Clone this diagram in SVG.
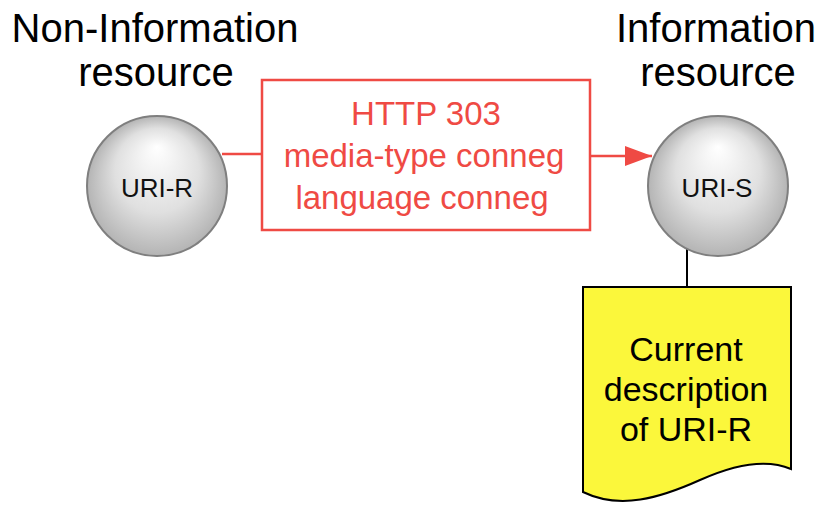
<svg xmlns="http://www.w3.org/2000/svg" width="824" height="507" viewBox="0 0 824 507">
<defs>
<radialGradient id="ball" cx="0.5" cy="0.5" r="0.5" fx="0.5" fy="0.22">
<stop offset="0" stop-color="#ffffff"/>
<stop offset="0.6" stop-color="#e0e0e0"/>
<stop offset="1" stop-color="#b4b4b4"/>
</radialGradient>
<marker id="arr" markerWidth="28" markerHeight="20" refX="27" refY="10" orient="auto" markerUnits="userSpaceOnUse">
<path d="M0,0 L27,10 L0,20 Z" fill="#ef4a44"/>
</marker>
<style>
.title{font-family:"Liberation Sans",Arial,sans-serif;font-size:40px;fill:#000;text-anchor:middle}
.lbl{font-family:"Liberation Sans",Arial,sans-serif;font-size:26px;fill:#111;text-anchor:middle}
.red{font-family:"Liberation Sans",Arial,sans-serif;font-size:33px;fill:#ef4a44;text-anchor:middle}
.doc{font-family:"Liberation Sans",Arial,sans-serif;font-size:34px;fill:#000;text-anchor:middle}
.ball{fill:url(#ball);stroke:#7f7f7f;stroke-width:2}
</style>
</defs>
<rect width="824" height="507" fill="#fff"/>
<g id="title-left">
<text class="title" x="155" y="42">Non-Information</text>
<text class="title" x="156" y="86">resource</text>
</g>
<g id="title-right">
<text class="title" x="716" y="42">Information</text>
<text class="title" x="718" y="86">resource</text>
</g>
<g id="connectors" fill="none">
<line x1="222" y1="154" x2="262" y2="154" stroke="#ef4a44" stroke-width="2.5"/>
<line x1="590" y1="156" x2="652" y2="156" stroke="#ef4a44" stroke-width="2.5" marker-end="url(#arr)"/>
<line x1="687" y1="249" x2="687" y2="287" stroke="#000" stroke-width="2"/>
</g>
<g id="uri-r">
<circle class="ball" cx="157" cy="186" r="70"/>
<text class="lbl" x="157" y="197">URI-R</text>
</g>
<g id="uri-s">
<circle class="ball" cx="718" cy="186" r="70"/>
<text class="lbl" x="717" y="197">URI-S</text>
</g>
<g id="conneg">
<rect x="262" y="80" width="328" height="150" fill="#fff" stroke="#ef4a44" stroke-width="2.5"/>
<text class="red" x="426" y="125">HTTP 303</text>
<text class="red" x="424" y="167">media-type conneg</text>
<text class="red" x="422" y="209">language conneg</text>
</g>
<g id="document">
<path d="M583,287 H791 V469 C770,460 740,462 700,480 C660,498 620,510 583,492 Z" fill="#fbf73b" stroke="#000" stroke-width="2"/>
<text class="doc" x="686" y="361">Current</text>
<text class="doc" x="686" y="401">description</text>
<text class="doc" x="686" y="441">of URI-R</text>
</g>
</svg>
